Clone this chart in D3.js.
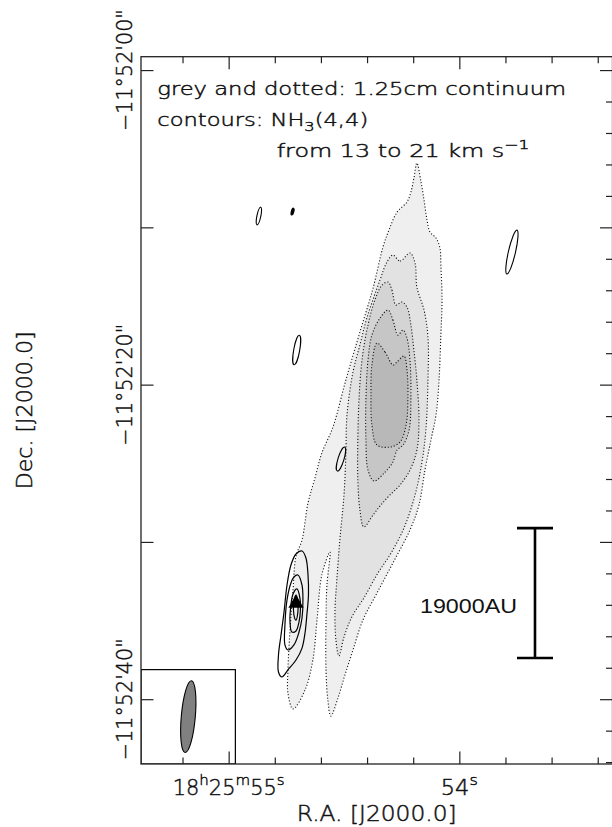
<!DOCTYPE html>
<html>
<head>
<meta charset="utf-8">
<script src="https://cdn.jsdelivr.net/npm/d3@7"></script>
<style>
  html, body { margin: 0; padding: 0; background: #fff; }
  svg { display: block; }
</style>
</head>
<body>
<svg id="chart" width="612" height="827"></svg>
<script>
// ---- Field of view: R.A. seconds past 18h25m, Dec arcsec past -11d52m ----
const raDomain  = [55.380, 53.336];
const decDomain = [-0.85, 44.12];

// ---- 1.25 cm continuum contours (outer to inner), vertices as [RA s, Dec "] ----
const continuumL1 = [[54.184,5.91],[54.166,7.12],[54.153,8.26],[54.140,9.54],[54.127,10.30],[54.101,10.68],[54.084,11.32],[54.080,12.40],[54.075,14.62],[54.080,16.85],[54.088,19.71],[54.101,21.93],[54.123,23.52],[54.149,25.43],[54.175,27.65],[54.214,29.24],[54.288,31.34],[54.357,33.25],[54.418,34.97],[54.461,36.87],[54.496,38.46],[54.526,39.92],[54.557,41.07],[54.570,40.05],[54.578,38.14],[54.578,34.97],[54.574,32.74],[54.561,30.64],[54.596,32.10],[54.617,34.97],[54.635,37.51],[54.669,39.42],[54.721,40.62],[54.743,39.61],[54.743,38.14],[54.734,35.60],[54.721,33.06],[54.708,30.90],[54.682,29.88],[54.656,27.53],[54.626,25.94],[54.596,24.35],[54.548,22.70],[54.492,19.71],[54.431,16.66],[54.374,13.86],[54.331,11.25],[54.305,10.17],[54.270,9.03],[54.227,8.39],[54.210,7.76],[54.197,6.87]];
const continuumL2 = [[54.288,11.76],[54.257,12.14],[54.214,11.63],[54.192,12.27],[54.184,13.80],[54.153,15.26],[54.136,16.97],[54.136,19.71],[54.145,22.89],[54.162,24.92],[54.192,27.02],[54.240,29.12],[54.296,30.71],[54.353,31.98],[54.414,33.57],[54.466,34.77],[54.500,36.05],[54.522,37.25],[54.535,36.24],[54.539,34.33],[54.531,32.42],[54.518,29.88],[54.500,27.02],[54.492,24.48],[54.487,21.93],[54.461,19.20],[54.431,17.48],[54.401,15.77],[54.344,13.35],[54.314,12.21]];
const continuumL3 = [[54.309,13.48],[54.292,13.99],[54.275,14.94],[54.249,14.75],[54.227,15.07],[54.210,16.21],[54.197,17.80],[54.184,19.71],[54.175,22.25],[54.184,24.16],[54.214,25.43],[54.257,26.38],[54.301,27.02],[54.340,27.65],[54.374,28.29],[54.414,29.05],[54.431,27.97],[54.440,26.06],[54.440,23.52],[54.435,20.98],[54.422,18.44],[54.396,16.21],[54.366,14.62],[54.335,13.67]];
const continuumL4 = [[54.309,15.26],[54.288,15.89],[54.266,16.85],[54.244,16.53],[54.227,17.04],[54.214,18.44],[54.210,20.98],[54.218,22.89],[54.244,23.84],[54.270,24.16],[54.288,24.92],[54.322,25.56],[54.370,26.13],[54.396,25.43],[54.405,23.52],[54.405,20.98],[54.396,18.44],[54.379,16.85],[54.344,15.77]];
const continuumL5 = [[54.357,17.36],[54.322,17.93],[54.288,18.75],[54.270,18.56],[54.240,18.18],[54.227,19.07],[54.223,20.98],[54.231,22.57],[54.257,23.65],[54.301,23.97],[54.357,23.84],[54.379,22.57],[54.383,20.66],[54.379,18.75]];
const continuumFills = ["#efefef", "#e2e2e2", "#d4d4d4", "#c6c6c6", "#b8b8b8"];

// ---- NH3(4,4) integrated emission, 13-21 km/s: nested contours of the compact source ----
const nh3L1 = [[54.682,30.58],[54.665,31.02],[54.656,32.10],[54.654,33.38],[54.661,34.65],[54.669,35.79],[54.682,36.75],[54.708,37.51],[54.743,38.14],[54.769,38.59],[54.784,38.27],[54.784,37.19],[54.773,35.92],[54.760,34.46],[54.747,32.74],[54.730,31.47],[54.708,30.77]];
const nh3L2 = [[54.700,32.10],[54.682,32.74],[54.678,33.69],[54.682,34.84],[54.695,35.73],[54.717,36.55],[54.743,36.87],[54.756,36.55],[54.756,35.28],[54.747,33.69],[54.730,32.61],[54.717,32.23]];
const nh3L3 = [[54.704,32.99],[54.691,33.57],[54.689,34.33],[54.695,35.09],[54.708,35.66],[54.726,35.73],[54.734,35.09],[54.730,34.01],[54.721,33.31]];
const nh3L4 = [[54.708,33.38],[54.700,33.82],[54.700,34.46],[54.708,34.97],[54.717,34.65],[54.717,33.82]];
// small isolated NH3 contours: [RA s, Dec ", major ", minor ", PA deg, filled]
const nh3Blobs = [
  [54.869,  9.28, 1.15, 0.25, -12, 0],
  [54.723,  9.00, 0.45, 0.16, -15, 1],
  [54.705, 17.80, 1.90, 0.38, -10, 0],
  [54.513, 24.73, 1.60, 0.38, -17, 0],
  [53.772, 11.57, 2.86, 0.45, -13, 0]
];
// embedded source marker
const sourcePos = [54.708, 33.9];

// ---- synthesized beam [RA s, Dec ", major ", minor ", PA deg] and its box size (") ----
const beam = [55.175, 41.11, 4.58, 0.89, -5];
const beamBoxSize = 6.0;

// ---- linear scale bar ----
const scaleBarAU = 19000;
const distancePc = 2300;
const scaleBarPos = [53.672, 29.12];   // RA s, Dec " of upper end

// ---- axis ticks and labels ----
const raMinorTicks = [55.2, 55.0, 54.8, 54.6, 54.4, 54.2, 54.0, 53.8, 53.6, 53.4];
const raMajorTicks = [55, 54];
const raTickLabels = ["18^{h}25^{m}55^{s}", "54^{s}"];
const decMinorTicks = d3.range(0, 45, 2);
const decMajorTicks = [0, 10, 20, 30, 40];
const decLabelTicks = [0, 20, 40];
const decTickLabels = ["\u221211\u00b052'00\"", "\u221211\u00b052'20\"", "\u221211\u00b052'40\""];
const xTitle = "R.A. [J2000.0]";
const yTitle = "Dec. [J2000.0]";
const notes = ["grey and dotted: 1.25cm continuum", "contours: NH_{3}(4,4)", "from 13 to 21 km s^{\u22121}"];

// ---------------------------------------------------------------------------
const frame = { left: 141, top: 56.7, right: 612.5, bottom: 764 };
const svg = d3.select("#chart");
const FONT = "'DejaVu Sans', 'Liberation Sans', sans-serif";
const INK = "#111";

const x = d3.scaleLinear().domain(raDomain).range([frame.left, frame.right]);
const y = d3.scaleLinear().domain(decDomain).range([frame.top, frame.bottom]);
const pxPerArcsec = Math.abs(y(1) - y(0));

const plot = svg.append("g");
const clipId = "frameClip";
svg.append("defs").append("clipPath").attr("id", clipId)
  .append("rect").attr("x", frame.left).attr("y", frame.top)
  .attr("width", frame.right - frame.left).attr("height", frame.bottom - frame.top);
plot.attr("clip-path", `url(#${clipId})`);

const ring = d3.line().x(p => x(p[0])).y(p => y(p[1])).curve(d3.curveCatmullRomClosed.alpha(0.5));
const continuum = [continuumL1, continuumL2, continuumL3, continuumL4, continuumL5];

// continuum: grey fills with dotted outlines
continuum.forEach((lev, i) => {
  plot.append("path").attr("d", ring(lev)).attr("fill", continuumFills[i]).attr("stroke", "none");
});
continuum.forEach(lev => {
  plot.append("path").attr("d", ring(lev)).attr("fill", "none")
    .attr("stroke", "#111").attr("stroke-width", 1.1).attr("stroke-dasharray", "1.1 2");
});

// NH3 contours
[nh3L1, nh3L2, nh3L3, nh3L4].forEach(lev => {
  plot.append("path").attr("d", ring(lev)).attr("fill", "none")
    .attr("stroke", "#000").attr("stroke-width", 1.2);
});
nh3Blobs.forEach(b => {
  plot.append("ellipse")
    .attr("transform", `translate(${x(b[0])},${y(b[1])}) rotate(${-b[4]})`)
    .attr("rx", b[3] / 2 * pxPerArcsec).attr("ry", b[2] / 2 * pxPerArcsec)
    .attr("fill", b[5] ? "#000" : "none").attr("stroke", "#000").attr("stroke-width", 1.1);
});
plot.append("path")
  .attr("d", d3.symbol(d3.symbolTriangle, 100)())
  .attr("transform", `translate(${x(sourcePos[0])},${y(sourcePos[1])})`)
  .attr("fill", "#000");

// beam inset
const boxPx = beamBoxSize * pxPerArcsec;
plot.append("rect").attr("x", frame.left).attr("y", frame.bottom - boxPx)
  .attr("width", boxPx).attr("height", boxPx)
  .attr("fill", "#fff").attr("stroke", "#000").attr("stroke-width", 1.2);
plot.append("ellipse")
  .attr("transform", `translate(${x(beam[0])},${y(beam[1])}) rotate(${-beam[4]})`)
  .attr("rx", beam[3] / 2 * pxPerArcsec).attr("ry", beam[2] / 2 * pxPerArcsec)
  .attr("fill", "#808080").attr("stroke", "#000").attr("stroke-width", 1.1);

// scale bar: 19000 AU at the adopted distance
const barArcsec = scaleBarAU / distancePc;
const bx = x(scaleBarPos[0]), by0 = y(scaleBarPos[1]), by1 = y(scaleBarPos[1] + barArcsec);
const capHalf = 18;
const bar = plot.append("g").attr("stroke", "#000").attr("stroke-width", 2.6);
bar.append("line").attr("x1", bx).attr("x2", bx).attr("y1", by0).attr("y2", by1);
bar.append("line").attr("x1", bx - capHalf).attr("x2", bx + capHalf).attr("y1", by0).attr("y2", by0);
bar.append("line").attr("x1", bx - capHalf).attr("x2", bx + capHalf).attr("y1", by1).attr("y2", by1);

// ---- text helpers -------------------------------------------------------------
function richText(g, str, size, family) {
  const t = g.append("text").attr("font-size", size).attr("font-family", family || FONT)
    .attr("font-weight", 200).attr("fill", INK)
    .attr("stroke", INK).attr("stroke-width", 0.45);
  let shift = 0;
  str.split(/(\^\{[^}]*\}|_\{[^}]*\})/).filter(s => s.length).forEach(part => {
    let content = part, target = 0, fs = size;
    if (part.startsWith("^{")) { content = part.slice(2, -1); target = -0.5 * size; fs = size * 0.72; }
    else if (part.startsWith("_{")) { content = part.slice(2, -1); target = 0.32 * size; fs = size * 0.72; }
    t.append("tspan").attr("dy", target - shift).attr("font-size", fs).text(content);
    shift = target;
  });
  return t;
}
// place text so that its drawn width equals `width`; anchor: start | middle | end
function placeText(str, size, px, py, width, anchor, rotated, family, weight) {
  const g = svg.append("g");
  const t = richText(g, str, size, family);
  if (weight) t.attr("font-weight", weight).attr("stroke", "none");
  const w = t.node().getComputedTextLength();
  const k = width / w;
  const off = anchor === "middle" ? -width / 2 : anchor === "end" ? -width : 0;
  if (rotated) g.attr("transform", `translate(${px},${py}) rotate(-90) translate(${off},0) scale(${k},1)`);
  else g.attr("transform", `translate(${px + off},${py}) scale(${k},1)`);
  return g;
}

// ---- frame and ticks -----------------------------------------------------------
const axes = svg.append("g").attr("color", "#222");
function tickAxis(axisFn, scale, values, size, transform) {
  const a = axisFn(scale).tickValues(values).tickSizeInner(-size).tickSizeOuter(0).tickFormat("");
  const g = axes.append("g").attr("transform", transform).call(a);
  g.select(".domain").remove();
  g.selectAll("line").attr("stroke-width", 1.2);
}
const raMinorOnly = raMinorTicks.filter(v => !raMajorTicks.includes(v));
const decMinorOnly = decMinorTicks.filter(v => !decMajorTicks.includes(v));
tickAxis(d3.axisBottom, x, raMinorOnly, 6.5, `translate(0,${frame.bottom})`);
tickAxis(d3.axisBottom, x, raMajorTicks, 12.5, `translate(0,${frame.bottom})`);
tickAxis(d3.axisTop, x, raMinorOnly, 6.5, `translate(0,${frame.top})`);
tickAxis(d3.axisTop, x, raMajorTicks, 12.5, `translate(0,${frame.top})`);
tickAxis(d3.axisLeft, y, decMajorTicks, 12.5, `translate(${frame.left},0)`);
tickAxis(d3.axisRight, y, decMinorOnly, 6.5, `translate(${frame.right},0)`);
tickAxis(d3.axisRight, y, decMajorTicks, 12.5, `translate(${frame.right},0)`);

axes.append("rect").attr("x", frame.left).attr("y", frame.top)
  .attr("width", frame.right - frame.left).attr("height", frame.bottom - frame.top)
  .attr("fill", "none").attr("stroke", "#222").attr("stroke-width", 1.3);

// ---- labels --------------------------------------------------------------------
const raLabelWidths = [112, 37];
raMajorTicks.forEach((v, i) => placeText(raTickLabels[i], 20.5, x(v), 795, raLabelWidths[i], "middle"));
decLabelTicks.forEach((v, i) => placeText(decTickLabels[i], 20.5, 131.5, y(v), 122, "middle", true));
placeText(xTitle, 20.5, (frame.left + frame.right) / 2, 821, 160, "middle");
placeText(yTitle, 20.5, 31.7, (frame.top + frame.bottom) / 2, 158, "middle", true);

placeText(notes[0], 17, 157.3, 95, 409, "start");
placeText(notes[1], 17, 157.3, 126, 211, "start");
placeText(notes[2], 17, 276.7, 157, 253, "start");

placeText(scaleBarAU + "AU", 20, 517, 613, 97, "end", false, "'Liberation Sans', Arial, sans-serif", 400);
</script>
</body>
</html>
